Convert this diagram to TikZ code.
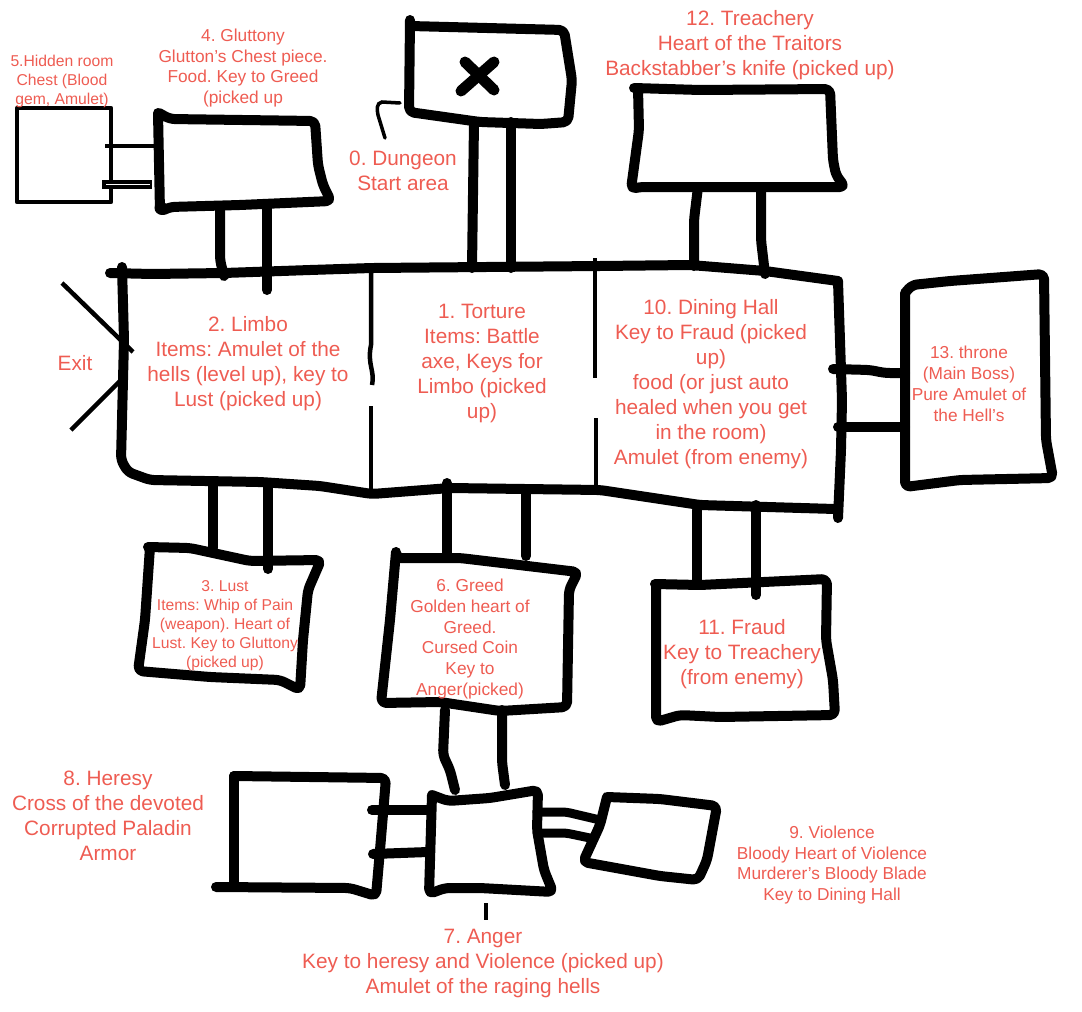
\documentclass[tikz,border=0pt]{standalone}
\usepackage{fontspec}
\setmainfont{Liberation Sans}
\definecolor{labelred}{HTML}{EE5C52}
\tikzset{
    wall/.style={line width=10pt, line cap=round, line join=round, rounded corners=5pt},
    thinwall/.style={line width=4.5pt, line join=round},
    biglabel/.style={text=labelred, align=center, inner sep=0pt, font=\fontsize{20.8}{25}\selectfont},
    midlabel/.style={text=labelred, align=center, inner sep=0pt, font=\fontsize{17.3}{20.8}\selectfont},
    smalllabel/.style={text=labelred, align=center, inner sep=0pt, font=\fontsize{15.7}{19}\selectfont},
  }

\begin{document}
\frenchspacing
\begin{tikzpicture}[x=1pt, y=-1pt]
      \useasboundingbox (0,0) rectangle (1082,1012);

      % main hall
      \draw [wall] (110,273) -- (152,274) -- (224,273) -- (310,270) -- (372,268) -- (600,266) -- (690,265) -- (765,271) -- (838,281);
      \draw [wall] (122,267) -- (124,340) -- (121,460) -- (128,472) -- (150,480) -- (260,482) -- (320,486) -- (372,494) -- (450,488) -- (600,490) -- (700,505) -- (835,509);
      \draw [wall] (838,281) -- (842,400) -- (841,450) -- (838,518);

      % hall dividers
      \draw [thinwall] (371,268) -- (371,345) .. controls (367,365) and (375,370) .. (372,385);
      \draw [thinwall] (371,406) -- (371,492);
      \draw [thinwall] (595,258) -- (595,378);
      \draw [thinwall] (596,418) -- (596,490);

      % exit
      \draw [thinwall] (62,283) -- (133,352);
      \draw [thinwall] (71,430) -- (120,381);

      % dungeon
      \draw [wall] (410,20) -- (409,112) -- (480,122) -- (541,124) -- (568,122) -- (572,80) -- (564,30) -- (410,26);
      \draw [line width=11pt, line cap=round] (465,62) -- (494,90);
      \draw [line width=11pt, line cap=round] (494,62) -- (461,91);
      \draw [line width=3.5pt, line cap=round] (400,103) -- (382,102) .. controls (376,103) and (377,110) .. (378,115) -- (385,138);
      \draw [wall] (474,122) -- (472,268);
      \draw [wall] (511,122) -- (511,268);

      % gluttony and hidden room
      \draw [wall] (159,113) -- (170,119) -- (315,121) -- (318,165) -- (323,185) -- (331,201) -- (240,205) -- (170,207) -- (160,212) -- (158,113);
      \fill (161,208) circle (6.5pt);
      \draw [thinwall] (17,108) rectangle (111,202);
      \draw [thinwall] (105,146) -- (155,146);
      \draw [line width=9pt] (102,184) -- (152,184);
      \draw [line width=1pt, white] (106,184) -- (150,184);
      \draw [wall] (220,207) -- (220,260) -- (224,276);
      \draw [wall] (267,207) -- (267,290);

      % treachery
      \draw [wall] (634,88) -- (700,90) -- (830,89) -- (833,160) -- (836,175) -- (845,187) -- (640,187) -- (631,189) -- (639,130) -- (638,88);
      \draw [wall] (698,187) -- (694,220) -- (694,266);
      \draw [wall] (761,187) -- (761,240) -- (765,274);

      % throne
      \draw [wall] (905,293) -- (912,285) -- (950,281) -- (1044,274) -- (1046,440) -- (1053,478) -- (960,480) -- (905,487) -- (905,293);
      \draw [wall] (833,369) -- (870,370) -- (885,373) -- (905,373);
      \draw [wall] (838,427) -- (905,427);

      % lust
      \draw [wall] (148,547) -- (190,548) -- (250,561) -- (321,560) -- (308,590) -- (303,640) -- (300,690) -- (280,680) -- (210,677) -- (138,671) -- (145,620) -- (150,547);
      \draw [wall] (213,485) -- (213,548);
      \draw [wall] (268,483) -- (268,569);

      % greed
      \draw [wall] (396,552) -- (396,558) -- (460,558) -- (578,572) -- (569,590) -- (567,707) -- (500,711) -- (440,702) -- (381,703) -- (390,620) -- (396,552);
      \draw [wall] (447,483) -- (447,556);
      \draw [wall] (526,492) -- (526,556);
      \draw [wall] (445,710) -- (443,755) -- (450,770) -- (455,790);
      \draw [wall] (502,710) -- (502,762) -- (505,785);

      % heresy
      \draw [wall] (234,776) -- (386,778) -- (380,850) -- (376,896) -- (350,888) -- (216,887);
      \draw [wall] (234,776) -- (234,885);
      \draw [wall] (372,810) -- (430,810);
      \draw [wall] (373,854) -- (428,852);

      % anger
      \draw [wall] (432,795) -- (448,801) -- (490,798) -- (538,790) -- (537,830) -- (544,870) -- (553,892) -- (480,888) -- (445,888) -- (429,894) -- (432,795);
      \draw [thinwall] (486,903) -- (486,920);

      % violence
      \draw [wall] (607,797) -- (600,825) -- (583,862) -- (660,876) -- (698,880) -- (707,860) -- (717,806) -- (660,799) -- (607,797);
      \draw [line width=9pt, line cap=round, rounded corners=4pt] (537,812) -- (566,812) -- (600,820);
      \draw [line width=9pt, line cap=round, rounded corners=4pt] (537,833) -- (566,833) -- (590,838);

      % fraud
      \draw [wall] (655,584) -- (700,585) -- (827,579) -- (826,640) -- (833,680) -- (835,715) -- (720,717) -- (680,715) -- (656,722) -- (656,584);
      \draw [wall] (697,510) -- (697,580);
      \draw [wall] (756,505) -- (756,595);

      % room labels
      \node[biglabel] (exitlabel) at (75,363) {Exit};
      \node[biglabel] (limbolabel) at (248,364) {2. Limbo\\Items: Amulet of the\\hells (level up), key to\\Lust (picked up)};
      \node[biglabel] (torturelabel) at (482,363) {1. Torture\\Items: Battle\\axe, Keys for\\Limbo (picked\\up)};
      \node[biglabel] (dininglabel) at (711,384) {10. Dining Hall\\Key to Fraud (picked\\up)\\food (or just auto\\healed when you get\\in the room)\\Amulet (from enemy)};
      \node[biglabel] (dungeonlabel) at (403,171) {0. Dungeon\\Start area};
      \node[biglabel] (treacherylabel) at (750,45) {12. Treachery\\Heart of the Traitors\\Backstabber’s knife (picked up)};
      \node[biglabel] (fraudlabel) at (742,654) {11. Fraud\\Key to Treachery\\(from enemy)};
      \node[biglabel] (heresylabel) at (108,816) {8. Heresy\\Cross of the devoted\\Corrupted Paladin\\Armor};
      \node[biglabel] (angerlabel) at (483,963) {7. Anger\\Key to heresy and Violence (picked up)\\Amulet of the raging hells};
      \node[midlabel] (gluttonylabel) at (243,68) {4. Gluttony\\Glutton’s Chest piece.\\Food. Key to Greed\\(picked up};
      \node[midlabel] (thronelabel) at (969,384) {13. throne\\(Main Boss)\\Pure Amulet of\\the Hell’s};
      \node[midlabel] (greedlabel) at (470,639) {6. Greed\\Golden heart of\\Greed.\\Cursed Coin\\Key to\\Anger(picked)};
      \node[midlabel] (violencelabel) at (832,865) {9. Violence\\Bloody Heart of Violence\\Murderer’s Bloody Blade\\Key to Dining Hall};
      \node[smalllabel] (hiddenlabel) at (62,81) {5.Hidden room\\Chest (Blood\\gem, Amulet)};
      \node[smalllabel] (lustlabel) at (225,626) {3. Lust\\Items: Whip of Pain\\(weapon). Heart of\\Lust. Key to Gluttony\\(picked up)};
    \end{tikzpicture}
\end{document}
